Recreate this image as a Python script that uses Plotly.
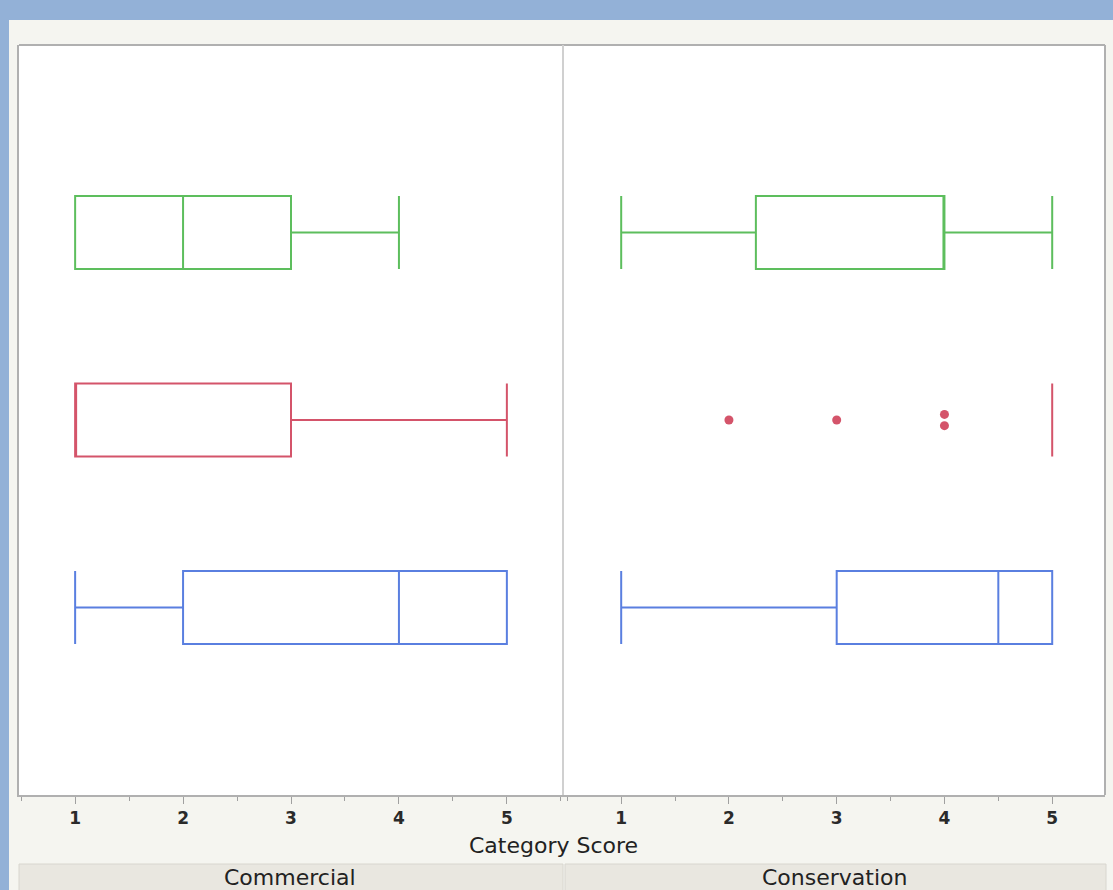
import plotly.graph_objects as go

W, H = 1113, 890

groups = ["Commercial", "Conservation"]
series_colors = ["#5DBE5D", "#D4546A", "#5A7FE0"]  # top, middle, bottom
series_pos = [2, 1, 0]

# Commercial: [green, red, blue]
com_low = [1, 1, 1]
com_q1 = [1, 1, 2]
com_med = [2, 1, 4]
com_q3 = [3, 3, 5]
com_high = [4, 5, 5]

# Conservation: [green, red, blue]
con_low = [1, 5, 1]
con_q1 = [2.25, 5, 3]
con_med = [4, 5, 4.5]
con_q3 = [4, 5, 5]
con_high = [5, 5, 5]

# Conservation red outliers
con_red_outliers = [2, 3, 4, 4]
outlier_jitter = [0, 0, 0.03, -0.03]

tick_vals = [1, 2, 3, 4, 5]
tick_text = ["1", "2", "3", "4", "5"]

fig = go.Figure()

def px_x(x):
    return x / W

def px_y(y):
    return 1 - y / H

data_sets = [
    (com_low, com_q1, com_med, com_q3, com_high, "x", "y"),
    (con_low, con_q1, con_med, con_q3, con_high, "x2", "y2"),
]
for low, q1, med, q3, high, xa, ya in data_sets:
    for i in range(3):
        fig.add_trace(go.Box(
            orientation="h",
            y=[series_pos[i]],
            lowerfence=[low[i]], q1=[q1[i]], median=[med[i]],
            q3=[q3[i]], upperfence=[high[i]],
            width=0.39, whiskerwidth=1,
            line=dict(color=series_colors[i], width=2),
            fillcolor="rgba(255,255,255,0)",
            boxpoints=False,
            showlegend=False, hoverinfo="skip",
            xaxis=xa, yaxis=ya,
        ))

fig.add_trace(go.Scatter(
    x=con_red_outliers,
    y=[series_pos[1] + j for j in outlier_jitter],
    mode="markers",
    marker=dict(color=series_colors[1], size=9, symbol="circle"),
    showlegend=False, hoverinfo="skip",
    xaxis="x2", yaxis="y2",
))

left_dom = [px_x(19), px_x(563)]
right_dom = [px_x(563), px_x(1105)]
y_dom = [px_y(795), px_y(45)]

xcommon = dict(
    tickmode="array", tickvals=tick_vals, ticktext=tick_text,
    ticks="outside", ticklen=7, tickwidth=1, tickcolor="#A0A0A0",
    minor=dict(tickvals=[0.5, 1.5, 2.5, 3.5, 4.5, 5.5], ticks="outside", ticklen=4, tickcolor="#A0A0A0"),
    showgrid=False, zeroline=False,
    showline=True, linecolor="#B0B0B0", linewidth=2, mirror=False,
    tickfont=dict(family="DejaVu Sans", size=17, color="#2a2a2a", weight="bold"),
    fixedrange=True,
)
ycommon = dict(
    range=[-1, 3], showticklabels=False, ticks="", showgrid=False,
    zeroline=False, linecolor="#B0B0B0", linewidth=2,
    domain=y_dom, fixedrange=True,
)

fig.update_layout(
    width=W, height=H,
    margin=dict(l=0, r=0, t=0, b=0),
    paper_bgcolor="#F5F5F0",
    plot_bgcolor="white",
    xaxis=dict(domain=left_dom, range=[0.48, 5.52], anchor="y", **xcommon),
    xaxis2=dict(domain=right_dom, range=[0.46, 5.49], anchor="y2", **xcommon),
    yaxis=dict(anchor="x", showline=True, **ycommon),
    yaxis2=dict(anchor="x2", showline=False, **ycommon),
    shapes=[
        dict(type="rect", xref="paper", yref="paper",
             x0=-0.01, x1=1.01, y0=px_y(20), y1=1.01,
             fillcolor="#93B1D7", line=dict(width=0), layer="below"),
        dict(type="rect", xref="paper", yref="paper",
             x0=-0.01, x1=px_x(9), y0=-0.01, y1=1.01,
             fillcolor="#93B1D7", line=dict(width=0), layer="below"),
        dict(type="rect", xref="paper", yref="paper",
             x0=px_x(19), x1=px_x(563), y0=-0.02, y1=px_y(864),
             fillcolor="#E9E7E0", line=dict(color="#D8D6CF", width=1), layer="below"),
        dict(type="rect", xref="paper", yref="paper",
             x0=px_x(565), x1=px_x(1106), y0=-0.02, y1=px_y(864),
             fillcolor="#E9E7E0", line=dict(color="#D8D6CF", width=1), layer="below"),
        dict(type="line", xref="paper", yref="paper",
             x0=px_x(1105), x1=px_x(1105), y0=px_y(795), y1=px_y(45),
             line=dict(color="#B0B0B0", width=2)),
        dict(type="line", xref="paper", yref="paper",
             x0=px_x(19), x1=px_x(1105), y0=px_y(45), y1=px_y(45),
             line=dict(color="#B0B0B0", width=2)),
        dict(type="line", xref="paper", yref="paper",
             x0=px_x(563), x1=px_x(563), y0=px_y(795), y1=px_y(45),
             line=dict(color="#D0D0D0", width=2)),
    ],
    annotations=[
        dict(text="Category Score", xref="paper", yref="paper",
             x=px_x(553), y=px_y(845), showarrow=False,
             xanchor="center", yanchor="middle",
             font=dict(family="DejaVu Sans", size=22, color="#222222")),
        dict(text=groups[0], xref="paper", yref="paper",
             x=px_x(290), y=px_y(877), showarrow=False,
             xanchor="center", yanchor="middle",
             font=dict(family="DejaVu Sans", size=22, color="#222222")),
        dict(text=groups[1], xref="paper", yref="paper",
             x=px_x(834), y=px_y(877), showarrow=False,
             xanchor="center", yanchor="middle",
             font=dict(family="DejaVu Sans", size=22, color="#222222")),
    ],
)

fig.write_html("out.html", config={"displayModeBar": False},
               post_script="document.body.style.margin='0';document.body.style.overflow='hidden';")
